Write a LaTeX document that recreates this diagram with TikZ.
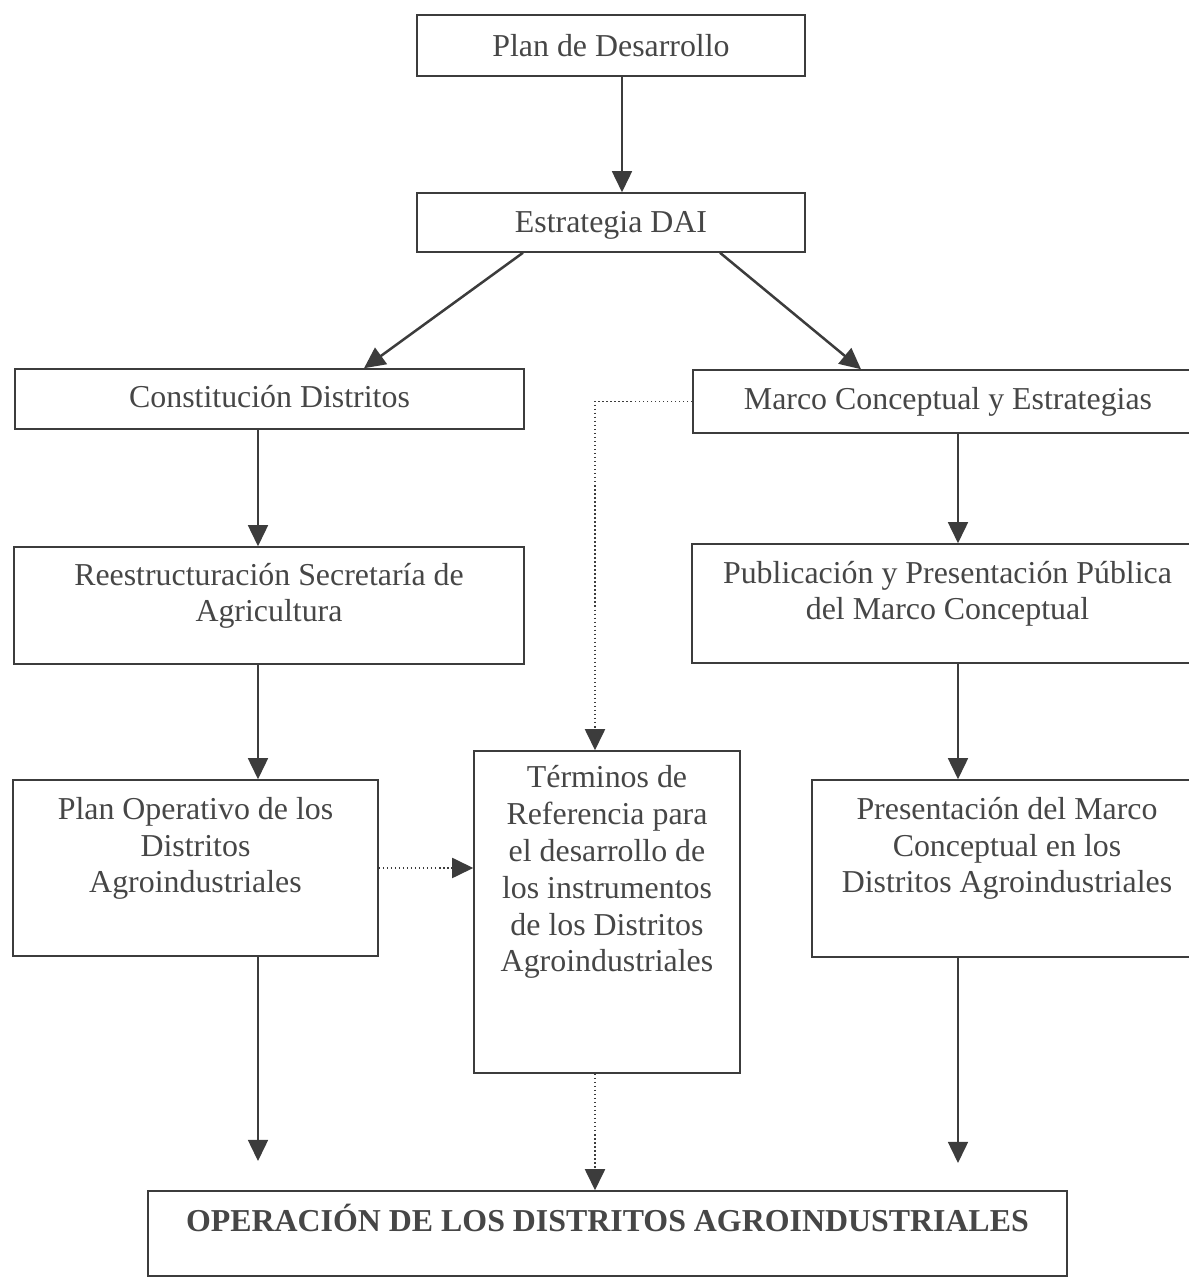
\documentclass[tikz,border=0pt]{standalone}
\usepackage{fontspec}
\setmainfont{Liberation Serif}
\definecolor{dgray}{RGB}{60,60,60}
\definecolor{tgray}{RGB}{70,70,70}
\usetikzlibrary{arrows.meta,positioning,calc}
\newcommand{\boxfont}{\fontsize{12.7pt}{14.66pt}\selectfont}
\tikzset{
  box/.style={draw=dgray, line width=0.6pt, inner xsep=2pt, inner ysep=0pt, align=center, text=tgray, font=\boxfont},
  flow/.style={-{Triangle[length=8.4pt,width=8pt]}, line width=0.6pt, draw=dgray},
  dotflow/.style={flow, densely dotted, line width=0.7pt}
}
\begin{document}
\begin{tikzpicture}
  \useasboundingbox (0,0) rectangle (16.646,17.878);

  %--- top ---
  \node[box, minimum width=5.432cm, text height=0.581cm, text depth=0.273cm] (plan) at (8.554,17.241) {Plan de Desarrollo};
  \node[box, minimum width=5.432cm, text height=0.56cm, text depth=0.266cm] (dai) at (8.554,14.763) {Estrategia DAI};

  %--- left column ---
  \node[box, minimum width=7.126cm, text height=0.546cm, text depth=0.294cm] (constitucion) at (3.773,12.292) {Constitución Distritos};
  \node[box, minimum width=7.14cm, text height=1.05cm, text depth=0.588cm] (reestructuracion) at (3.766,9.401) {Reestructuración Secretaría de\\Agricultura};
  \node[box, minimum width=5.11cm, text height=1.582cm, text depth=0.882cm] (planop) at (2.737,5.726) {Plan Operativo de los\\Distritos\\Agroindustriales};

  %--- middle ---
  \node[box, minimum width=3.724cm, text height=3.094cm, text depth=1.414cm] (terminos) at (8.498,5.11) {Términos de\\Referencia para\\el desarrollo de\\los instrumentos\\de los Distritos\\Agroindustriales};

  %--- right column ---
  \node[box, minimum width=7.14cm, text height=0.56cm, text depth=0.322cm] (marco) at (13.272,12.257) {Marco Conceptual y Estrategias};
  \node[box, minimum width=7.154cm, text height=1.064cm, text depth=0.602cm] (publicacion) at (13.265,9.429) {Publicación y Presentación Pública\\del Marco Conceptual};
  \node[box, minimum width=5.46cm, text height=1.582cm, text depth=0.896cm] (presentacion) at (14.098,5.719) {Presentación del Marco\\Conceptual en los\\Distritos Agroindustriales};

  %--- bottom ---
  \node[box, minimum width=12.866cm, text height=0.56cm, text depth=0.63cm, font=\boxfont\bfseries] (operacion) at (8.505,0.609) {OPERACIÓN DE LOS DISTRITOS AGROINDUSTRIALES};
  \coordinate (opL) at (3.612,1.624);
  \coordinate (opR) at (13.412,1.596);

  %--- arrows ---
  \draw[flow] ([xshift=0.154cm]plan.south) -- ([xshift=0.154cm]dai.north);
  \draw[flow, line width=1pt] ([xshift=-1.232cm]dai.south) -- ([xshift=1.323cm]constitucion.north);
  \draw[flow, line width=1pt] ([xshift=1.526cm]dai.south) -- ([xshift=-1.218cm]marco.north);
  \draw[flow] (constitucion.south -| opL) -- (reestructuracion.north -| opL);
  \draw[flow] (reestructuracion.south -| opL) -- (planop.north -| opL);
  \draw[flow] (planop.south -| opL) -- (opL);
  \draw[flow] (marco.south -| opR) -- (publicacion.north -| opR);
  \draw[flow] (publicacion.south -| opR) -- (presentacion.north -| opR);
  \draw[flow] (presentacion.south -| opR) -- (opR);
  \draw[dotflow] (marco.west) -| ([xshift=-0.168cm]terminos.north);
  \draw[dotflow] (planop.east) -- (planop.east -| terminos.west);
  \draw[dotflow] ([xshift=-0.168cm]terminos.south) -- ([xshift=-0.168cm]terminos.south |- operacion.north);
\end{tikzpicture}
\end{document}
